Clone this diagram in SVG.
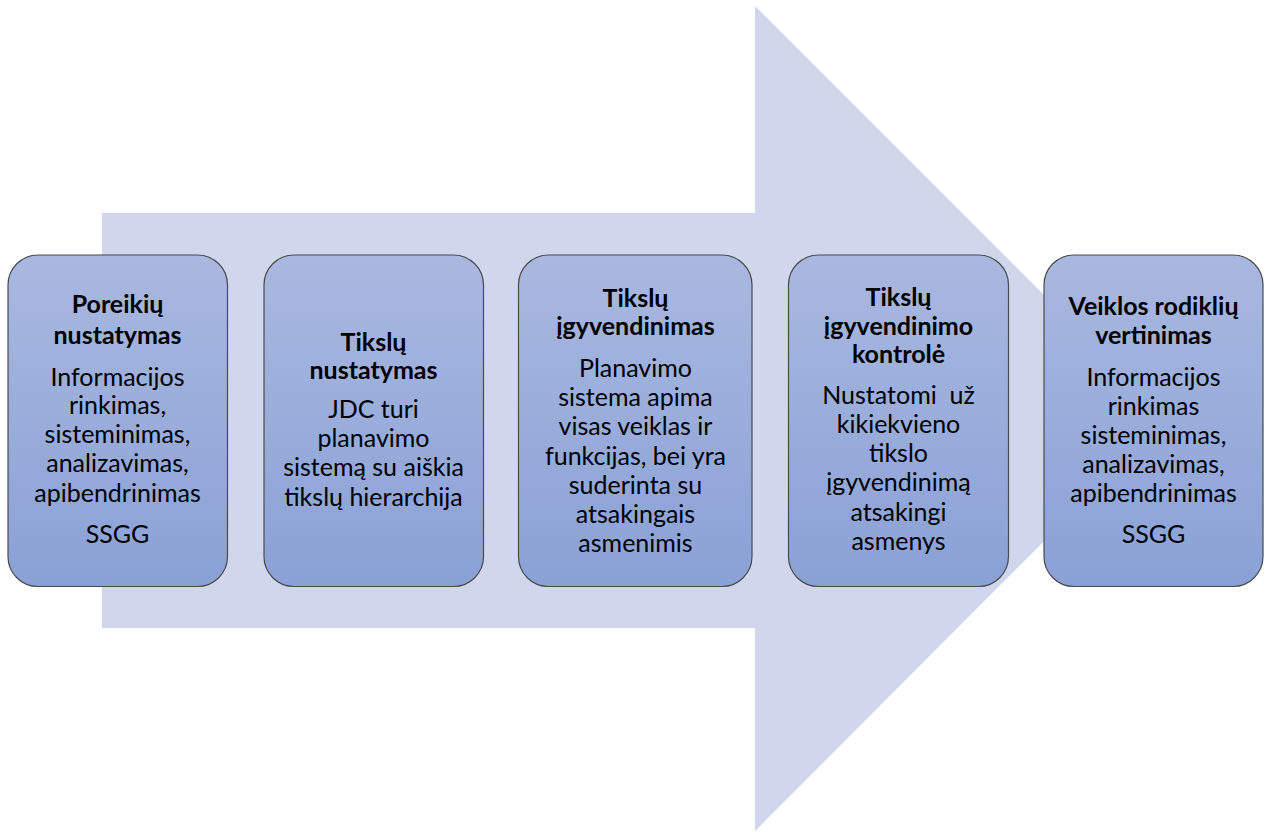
<svg xmlns="http://www.w3.org/2000/svg" width="1271" height="832" viewBox="0 0 1271 832">
<defs>
<linearGradient id="g" x1="0" y1="0" x2="0" y2="1">
<stop offset="0" stop-color="#A9B8E0"/>
<stop offset="1" stop-color="#8AA1D6"/>
</linearGradient>
<style>
.box{fill:url(#g);stroke:#4a4a4a;stroke-width:1.2}
text{font-family:Lato,"Liberation Sans",sans-serif;font-size:25px;fill:#000;text-anchor:middle}
.t{font-weight:bold}
</style>
</defs>
<rect width="1271" height="832" fill="#fff"/>
<g id="arrow">
<polygon points="102,213 755,213 755,6 1167,418 755,831 755,628 102,628" fill="#D0D7EC"/>
</g>
<g id="connectors"/>
<g id="n1">
<rect class="box" x="8" y="255" width="219.5" height="331.5" rx="30"/>
<text x="117.5" y="313" class="t">Poreikių</text>
<text x="117.5" y="344" class="t">nustatymas</text>
<text x="117.5" y="386">Informacijos</text>
<text x="117.5" y="414">rinkimas,</text>
<text x="117.5" y="443">sisteminimas,</text>
<text x="117.5" y="472">analizavimas,</text>
<text x="117.5" y="502">apibendrinimas</text>
<text x="117.5" y="543">SSGG</text>
</g>
<g id="n2">
<rect class="box" x="264" y="255" width="219.5" height="331.5" rx="30"/>
<text x="373.5" y="351" class="t">Tikslų</text>
<text x="373.5" y="379" class="t">nustatymas</text>
<text x="373.5" y="418">JDC turi</text>
<text x="373.5" y="447">planavimo</text>
<text x="373.5" y="476">sistemą su aiškia</text>
<text x="373.5" y="506">tikslų hierarchija</text>
</g>
<g id="n3">
<rect class="box" x="518.5" y="255" width="233.5" height="331.5" rx="30"/>
<text x="635.5" y="307" class="t">Tikslų</text>
<text x="635.5" y="335" class="t">įgyvendinimas</text>
<text x="635.5" y="377">Planavimo</text>
<text x="635.5" y="406">sistema apima</text>
<text x="635.5" y="435">visas veiklas ir</text>
<text x="635.5" y="465">funkcijas, bei yra</text>
<text x="635.5" y="494">suderinta su</text>
<text x="635.5" y="523">atsakingais</text>
<text x="635.5" y="552">asmenimis</text>
</g>
<g id="n4">
<rect class="box" x="788.5" y="255" width="220" height="331.5" rx="30"/>
<text x="898.5" y="306" class="t">Tikslų</text>
<text x="898.5" y="335" class="t">įgyvendinimo</text>
<text x="898.5" y="363" class="t">kontrolė</text>
<text x="898.5" y="404" xml:space="preserve">Nustatomi  už</text>
<text x="898.5" y="433">kikiekvieno</text>
<text x="898.5" y="462">tikslo</text>
<text x="898.5" y="491">įgyvendinimą</text>
<text x="898.5" y="521">atsakingi</text>
<text x="898.5" y="550">asmenys</text>
</g>
<g id="n5">
<rect class="box" x="1044" y="255" width="219" height="331.5" rx="30"/>
<text x="1153.5" y="315" class="t">Veiklos rodiklių</text>
<text x="1153.5" y="344" class="t">vertinimas</text>
<text x="1153.5" y="386">Informacijos</text>
<text x="1153.5" y="415">rinkimas</text>
<text x="1153.5" y="444">sisteminimas,</text>
<text x="1153.5" y="473">analizavimas,</text>
<text x="1153.5" y="502">apibendrinimas</text>
<text x="1153.5" y="543">SSGG</text>
</g>
</svg>
